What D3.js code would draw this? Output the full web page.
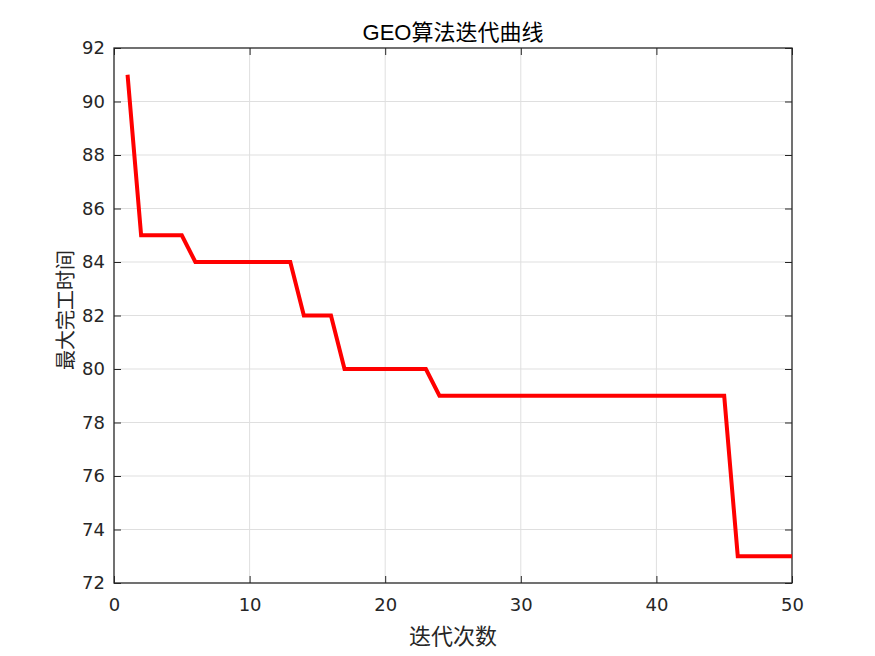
<!DOCTYPE html>
<html>
<head>
<meta charset="utf-8">
<script src="https://cdn.jsdelivr.net/npm/d3@7"></script>
<style>
  body { margin: 0; background: #fff; }
  svg { display: block; }
</style>
</head>
<body>
<script>
var svgWidth = 875;
var svgHeight = 656;

var margin = { top: 48, right: 83, bottom: 73, left: 114 };

var chartWidth = svgWidth - margin.left - margin.right;
var chartHeight = svgHeight - margin.top - margin.bottom;

// DATA
var iterations = d3.range(1, 51);
var maxTime = [91, 85, 85, 85, 85, 84, 84, 84, 84, 84,
               84, 84, 84, 82, 82, 82, 80, 80, 80, 80,
               80, 80, 80, 79, 79, 79, 79, 79, 79, 79,
               79, 79, 79, 79, 79, 79, 79, 79, 79, 79,
               79, 79, 79, 79, 79, 73, 73, 73, 73, 73];
var xTicks = [0, 10, 20, 30, 40, 50];
var yTicks = [72, 74, 76, 78, 80, 82, 84, 86, 88, 90, 92];

var titleText = "GEO算法迭代曲线";
var xLabelText = "迭代次数";
var yLabelText = "最大完工时间";

var tickFont = "'DejaVu Sans', sans-serif";
var font = "Helvetica, Arial, 'Liberation Sans', 'Noto Sans CJK SC', sans-serif";

var svg = d3.select("body").append("svg")
  .attr("width", svgWidth)
  .attr("height", svgHeight);

var chartGroup = svg.append("g")
  .attr("transform", `translate(${margin.left}, ${margin.top})`);

// SCALES
var xScale = d3.scaleLinear().domain([0, 50]).range([0, chartWidth]);
var yScale = d3.scaleLinear().domain([72, 92]).range([chartHeight, 0]);

// GRID
chartGroup.append("g")
  .selectAll("line")
  .data(xTicks.slice(1, -1))
  .enter().append("line")
  .attr("x1", d => xScale(d)).attr("x2", d => xScale(d))
  .attr("y1", 0).attr("y2", chartHeight)
  .attr("stroke", "#dfdfdf").attr("stroke-width", 1);

chartGroup.append("g")
  .selectAll("line")
  .data(yTicks.slice(1, -1))
  .enter().append("line")
  .attr("x1", 0).attr("x2", chartWidth)
  .attr("y1", d => yScale(d)).attr("y2", d => yScale(d))
  .attr("stroke", "#dfdfdf").attr("stroke-width", 1);

// AXES
function styleAxis(g) {
  g.select(".domain").remove();
  g.selectAll(".tick line").attr("stroke", "#262626");
  g.selectAll(".tick text")
    .attr("fill", "#262626")
    .style("font-family", tickFont)
    .style("font-size", "18px");
}

chartGroup.append("g")
  .attr("transform", `translate(0, ${chartHeight})`)
  .call(d3.axisBottom(xScale).tickValues(xTicks).tickSizeInner(-7).tickSizeOuter(0).tickPadding(15))
  .call(styleAxis);

chartGroup.append("g")
  .call(d3.axisTop(xScale).tickValues(xTicks).tickSizeInner(-7).tickSizeOuter(0).tickFormat(""))
  .call(styleAxis);

chartGroup.append("g")
  .call(d3.axisLeft(yScale).tickValues(yTicks).tickSizeInner(-7).tickSizeOuter(0).tickPadding(9))
  .call(styleAxis);

chartGroup.append("g")
  .attr("transform", `translate(${chartWidth}, 0)`)
  .call(d3.axisRight(yScale).tickValues(yTicks).tickSizeInner(-7).tickSizeOuter(0).tickFormat(""))
  .call(styleAxis);

// BOX
chartGroup.append("rect")
  .attr("x", 0).attr("y", 0)
  .attr("width", chartWidth).attr("height", chartHeight)
  .attr("fill", "none")
  .attr("stroke", "#262626")
  .attr("stroke-width", 1.3);

// LINE
var line = d3.line()
  .x((d, i) => xScale(iterations[i]))
  .y(d => yScale(d));

chartGroup.append("path")
  .datum(maxTime)
  .attr("d", line)
  .attr("fill", "none")
  .attr("stroke", "#ff0000")
  .attr("stroke-width", 4)
  .attr("stroke-linejoin", "miter");

// LABELS
svg.append("text")
  .attr("x", margin.left + chartWidth / 2)
  .attr("y", 40)
  .attr("text-anchor", "middle")
  .attr("fill", "#000")
  .style("font-family", font)
  .style("font-size", "22px")
  .text(titleText);

svg.append("text")
  .attr("x", margin.left + chartWidth / 2)
  .attr("y", 644)
  .attr("text-anchor", "middle")
  .attr("fill", "#262626")
  .style("font-family", font)
  .style("font-size", "22px")
  .text(xLabelText);

svg.append("text")
  .attr("transform", `translate(73, 310) rotate(-90)`)
  .attr("text-anchor", "middle")
  .attr("fill", "#262626")
  .style("font-family", font)
  .style("font-size", "20px")
  .text(yLabelText);
</script>
</body>
</html>
